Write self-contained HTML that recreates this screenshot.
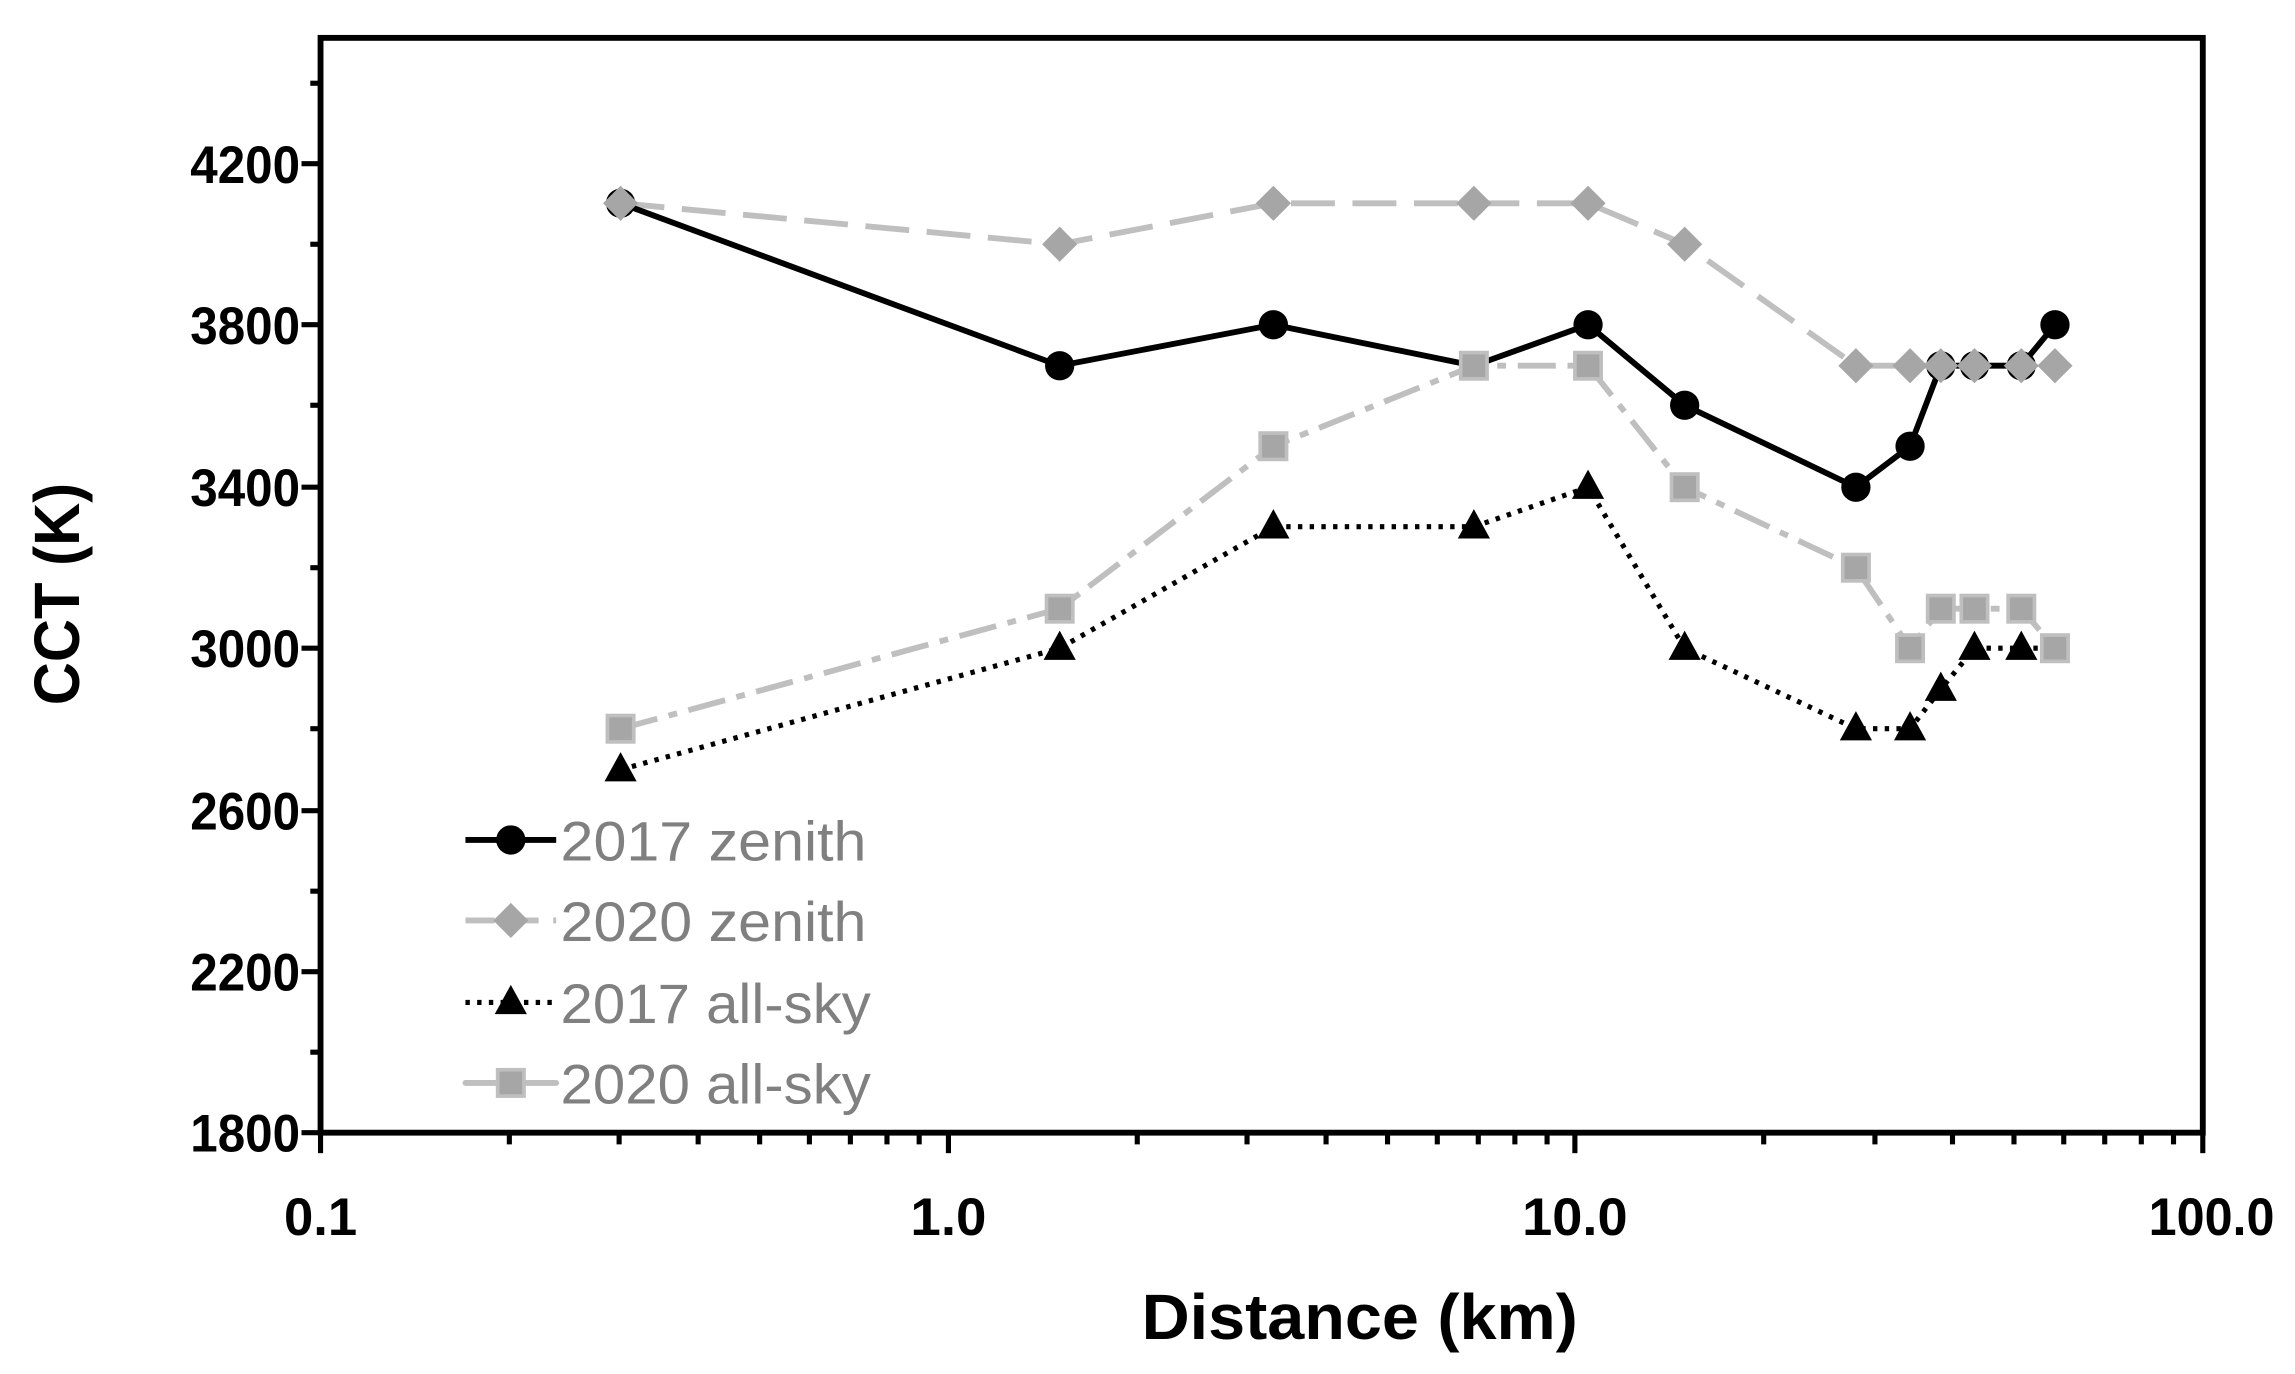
<!DOCTYPE html>
<html><head><meta charset="utf-8"><style>html,body{margin:0;padding:0;background:#fff}svg{display:block}</style></head>
<body>
<svg width="2295" height="1374" viewBox="0 0 1568 937" xmlns="http://www.w3.org/2000/svg" font-family="Liberation Sans, sans-serif">
<rect width="1568" height="937" fill="#fff"/>
<g stroke="#000" stroke-width="3.5">
<line x1="206" y1="773" x2="219" y2="773"/><line x1="212" y1="718" x2="219" y2="718"/>
<line x1="206" y1="663" x2="219" y2="663"/><line x1="212" y1="608" x2="219" y2="608"/>
<line x1="206" y1="553" x2="219" y2="553"/><line x1="212" y1="497" x2="219" y2="497"/>
<line x1="206" y1="442" x2="219" y2="442"/><line x1="212" y1="387" x2="219" y2="387"/>
<line x1="206" y1="332" x2="219" y2="332"/><line x1="212" y1="276" x2="219" y2="276"/>
<line x1="206" y1="221" x2="219" y2="221"/><line x1="212" y1="166" x2="219" y2="166"/>
<line x1="206" y1="111" x2="219" y2="111"/><line x1="212" y1="56" x2="219" y2="56"/>
<line x1="219" y1="773" x2="219" y2="787"/><line x1="648" y1="773" x2="648" y2="787"/>
<line x1="1076" y1="773" x2="1076" y2="787"/><line x1="1505" y1="773" x2="1505" y2="787"/>
<line x1="348" y1="773" x2="348" y2="781"/><line x1="423" y1="773" x2="423" y2="781"/><line x1="477" y1="773" x2="477" y2="781"/><line x1="519" y1="773" x2="519" y2="781"/><line x1="553" y1="773" x2="553" y2="781"/><line x1="581" y1="773" x2="581" y2="781"/><line x1="606" y1="773" x2="606" y2="781"/><line x1="628" y1="773" x2="628" y2="781"/>
<line x1="777" y1="773" x2="777" y2="781"/><line x1="852" y1="773" x2="852" y2="781"/><line x1="906" y1="773" x2="906" y2="781"/><line x1="948" y1="773" x2="948" y2="781"/><line x1="982" y1="773" x2="982" y2="781"/><line x1="1010" y1="773" x2="1010" y2="781"/><line x1="1035" y1="773" x2="1035" y2="781"/><line x1="1057" y1="773" x2="1057" y2="781"/>
<line x1="1205" y1="773" x2="1205" y2="781"/><line x1="1281" y1="773" x2="1281" y2="781"/><line x1="1334" y1="773" x2="1334" y2="781"/><line x1="1376" y1="773" x2="1376" y2="781"/><line x1="1410" y1="773" x2="1410" y2="781"/><line x1="1438" y1="773" x2="1438" y2="781"/><line x1="1463" y1="773" x2="1463" y2="781"/><line x1="1485" y1="773" x2="1485" y2="781"/>
</g>
<rect x="219" y="25" width="1286" height="748" fill="none" stroke="#000" stroke-width="4"/>
<g font-weight="bold" font-size="36" fill="#000" text-anchor="end">
<text x="205" y="124" textLength="75" lengthAdjust="spacingAndGlyphs">4200</text><text x="205" y="234" textLength="75" lengthAdjust="spacingAndGlyphs">3800</text><text x="205" y="345" textLength="75" lengthAdjust="spacingAndGlyphs">3400</text>
<text x="205" y="455" textLength="75" lengthAdjust="spacingAndGlyphs">3000</text><text x="205" y="566" textLength="75" lengthAdjust="spacingAndGlyphs">2600</text><text x="205" y="676" textLength="75" lengthAdjust="spacingAndGlyphs">2200</text><text x="205" y="786" textLength="75" lengthAdjust="spacingAndGlyphs">1800</text>
</g>
<g font-weight="bold" font-size="36" fill="#000" text-anchor="middle">
<text x="219" y="843" textLength="50" lengthAdjust="spacingAndGlyphs">0.1</text><text x="648" y="843" textLength="52" lengthAdjust="spacingAndGlyphs">1.0</text><text x="1076" y="843" textLength="72" lengthAdjust="spacingAndGlyphs">10.0</text><text x="1511" y="843" textLength="86" lengthAdjust="spacingAndGlyphs">100.0</text>
<text x="929" y="914" font-size="44" textLength="298" lengthAdjust="spacingAndGlyphs">Distance (km)</text>
<text transform="translate(54,405) rotate(-90)" font-size="44" textLength="152" lengthAdjust="spacingAndGlyphs">CCT (K)</text>
</g>
<polyline fill="none" stroke="#bfbfbf" stroke-width="4" stroke-dasharray="26,8,6,8" points="424,497 724,415 870,304 1007,249 1085,249 1151,332 1268,387 1305,442 1326,415 1349,415 1381,415 1404,442"/>
<polyline fill="none" stroke="#000" stroke-width="3.5" stroke-dasharray="3,5" points="424,525 724,442 870,359 1007,359 1085,332 1151,442 1268,497 1305,497 1326,470 1349,442 1381,442 1404,442"/>
<polyline fill="none" stroke="#bfbfbf" stroke-width="4" stroke-dasharray="30,12" points="424,138 724,166 870,138 1007,138 1085,138 1151,166 1268,249 1305,249 1326,249 1349,249 1381,249 1404,249"/>
<polyline fill="none" stroke="#000" stroke-width="4" points="424,138 724,249 870,221 1007,249 1085,221 1151,276 1268,332 1305,304 1326,249 1349,249 1381,249 1404,221"/>
<g fill="#000">
<circle cx="424" cy="138" r="10"/><circle cx="724" cy="249" r="10"/><circle cx="870" cy="221" r="10"/><circle cx="1007" cy="249" r="10"/><circle cx="1085" cy="221" r="10"/><circle cx="1151" cy="276" r="10"/><circle cx="1268" cy="332" r="10"/><circle cx="1305" cy="304" r="10"/><circle cx="1326" cy="249" r="10"/><circle cx="1349" cy="249" r="10"/><circle cx="1381" cy="249" r="10"/><circle cx="1404" cy="221" r="10"/>
</g>
<g fill="#a6a6a6">
<path d="M424 126l12 12-12 12-12-12z"/><path d="M724 154l12 12-12 12-12-12z"/><path d="M870 126l12 12-12 12-12-12z"/><path d="M1007 126l12 12-12 12-12-12z"/><path d="M1085 126l12 12-12 12-12-12z"/><path d="M1151 154l12 12-12 12-12-12z"/><path d="M1268 237l12 12-12 12-12-12z"/><path d="M1305 237l12 12-12 12-12-12z"/><path d="M1326 237l12 12-12 12-12-12z"/><path d="M1349 237l12 12-12 12-12-12z"/><path d="M1381 237l12 12-12 12-12-12z"/><path d="M1404 237l12 12-12 12-12-12z"/>
</g>
<g fill="#000">
<path d="M424 513l11 20h-22z"/><path d="M724 430l11 20h-22z"/><path d="M870 347l11 20h-22z"/><path d="M1007 347l11 20h-22z"/><path d="M1085 320l11 20h-22z"/><path d="M1151 430l11 20h-22z"/><path d="M1268 485l11 20h-22z"/><path d="M1305 485l11 20h-22z"/><path d="M1326 458l11 20h-22z"/><path d="M1349 430l11 20h-22z"/><path d="M1381 430l11 20h-22z"/>
</g>
<g fill="#a6a6a6" stroke="#bfbfbf" stroke-width="2.5">
<rect x="415" y="488" width="18" height="18"/><rect x="715" y="406" width="18" height="18"/><rect x="861" y="295" width="18" height="18"/><rect x="998" y="240" width="18" height="18"/><rect x="1076" y="240" width="18" height="18"/><rect x="1142" y="323" width="18" height="18"/><rect x="1259" y="378" width="18" height="18"/><rect x="1296" y="433" width="18" height="18"/><rect x="1317" y="406" width="18" height="18"/><rect x="1340" y="406" width="18" height="18"/><rect x="1372" y="406" width="18" height="18"/><rect x="1395" y="433" width="18" height="18"/>
</g>
<line x1="318" y1="573" x2="380" y2="573" stroke="#000" stroke-width="4"/><circle cx="349" cy="573" r="10" fill="#000"/>
<line x1="318" y1="628" x2="380" y2="628" stroke="#bfbfbf" stroke-width="4" stroke-dasharray="20,10"/><path d="M349 616l12 12-12 12-12-12z" fill="#a6a6a6"/>
<line x1="318" y1="684" x2="380" y2="684" stroke="#000" stroke-width="3.5" stroke-dasharray="3,5"/><path d="M349 672l11 20h-22z" fill="#000"/>
<line x1="318" y1="739" x2="380" y2="739" stroke="#bfbfbf" stroke-width="4" stroke-linecap="round"/><rect x="340" y="730" width="18" height="18" fill="#a6a6a6" stroke="#bfbfbf" stroke-width="2.5"/>
<g font-size="38" fill="#808080">
<text x="383" y="587" textLength="209" lengthAdjust="spacingAndGlyphs">2017 zenith</text>
<text x="383" y="642" textLength="209" lengthAdjust="spacingAndGlyphs">2020 zenith</text>
<text x="383" y="698" textLength="212" lengthAdjust="spacingAndGlyphs">2017 all-sky</text>
<text x="383" y="753" textLength="212" lengthAdjust="spacingAndGlyphs">2020 all-sky</text>
</g>
</svg>
</body></html>
